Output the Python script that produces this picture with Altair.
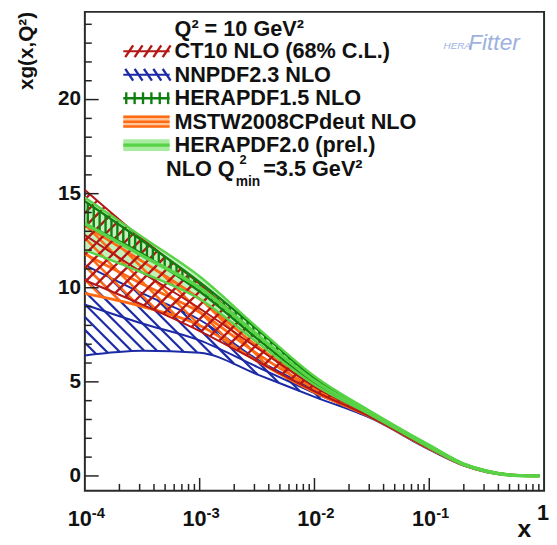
import numpy as np
import pandas as pd
import altair as alt

# ---------------- data ----------------
log_x = [-4.0, -3.5, -3.0, -2.5, -2.0, -1.5, -1.0, -0.7, -0.5, -0.3, -0.1, -0.04]

ct10_hi  = [15.2, 12.6, 10.2, 7.5, 5.0, 3.25, 1.55, 0.62, 0.26, 0.06, 0.01, 0.0]
ct10_mid = [12.8, 10.8, 8.9, 6.8, 4.75, 3.18, 1.5, 0.6, 0.24, 0.05, 0.0, 0.0]
ct10_lo  = [10.4, 9.1, 7.7, 6.1, 4.5, 3.1, 1.45, 0.57, 0.22, 0.04, -0.01, 0.0]

nnpdf_hi  = [11.2, 9.7, 8.3, 6.2, 4.6, 3.2, 1.5, 0.6, 0.24, 0.05, 0.0, 0.0]
nnpdf_mid = [9.1, 8.1, 7.2, 5.8, 4.4, 3.12, 1.45, 0.58, 0.22, 0.04, 0.0, 0.0]
nnpdf_lo  = [6.4, 6.65, 6.55, 5.4, 4.2, 3.04, 1.4, 0.55, 0.2, 0.03, -0.01, 0.0]

hera15_hi = [14.6, 12.5, 10.3, 7.8, 5.2, 3.35, 1.6, 0.64, 0.27, 0.06, 0.0, 0.0]
hera15_lo = [13.4, 11.8, 9.8, 7.3, 4.95, 3.25, 1.52, 0.6, 0.24, 0.05, 0.0, 0.0]

mstw_hi  = [13.3, 11.4, 9.4, 6.9, 4.85, 3.25, 1.55, 0.62, 0.26, 0.06, 0.0, 0.0]
mstw_mid = [11.8, 10.2, 8.7, 6.5, 4.65, 3.18, 1.5, 0.6, 0.24, 0.05, 0.0, 0.0]
mstw_lo  = [9.7, 9.0, 8.0, 6.1, 4.45, 3.1, 1.45, 0.57, 0.22, 0.04, 0.0, 0.0]

hera20_hi  = [14.8, 12.7, 10.6, 7.9, 5.3, 3.4, 1.65, 0.66, 0.28, 0.07, 0.01, 0.0]
hera20_mid = [13.4, 11.7, 10.0, 7.5, 5.05, 3.3, 1.58, 0.62, 0.25, 0.05, 0.0, 0.0]
hera20_lo  = [12.0, 10.8, 9.4, 7.1, 4.85, 3.2, 1.5, 0.58, 0.22, 0.03, -0.01, 0.0]

legend_labels = ["CT10 NLO (68% C.L.)", "NNPDF2.3 NLO", "HERAPDF1.5 NLO",
                 "MSTW2008CPdeut NLO", "HERAPDF2.0 (prel.)"]
legend_title = "Q\u00b2 = 10 GeV\u00b2"

y_major = [0, 5, 10, 15, 20]
x_decades = [-4, -3, -2, -1]

# ---------------- layout ----------------
W, H = 466, 486
Y0, Y1 = -0.79, 24.66
SX = W / 4.0
SY = H / (Y1 - Y0)
FONT = "Liberation Sans"
INK = "#111111"

C_CT10 = "#b51616"
C_NN = "#1c2aa6"
C_H15 = "#0f7f10"
C_MSTW = "#ff6a14"
C_H20 = "#58d246"
C_H20F = "#a8eca0"

xs = alt.Scale(type="log", domain=[1e-4, 1])
ys = alt.Scale(domain=[Y0, Y1], nice=False, zero=False)


def monotone(xk, yk, xq):
    """d3 curveMonotoneX (Steffen) evaluated at xq."""
    xk = np.asarray(xk, float); yk = np.asarray(yk, float)
    n = len(xk)
    h = np.diff(xk); s = np.diff(yk) / h
    t = np.zeros(n)
    for k in range(1, n - 1):
        p = (s[k - 1] * h[k] + s[k] * h[k - 1]) / (h[k - 1] + h[k])
        sg = (-1 if s[k - 1] < 0 else 1) + (-1 if s[k] < 0 else 1)
        t[k] = sg * min(abs(s[k - 1]), abs(s[k]), 0.5 * abs(p))
    t[0] = (3 * s[0] - t[1]) / 2
    t[-1] = (3 * s[-1] - t[-2]) / 2
    xq = np.asarray(xq, float)
    idx = np.clip(np.searchsorted(xk, xq) - 1, 0, n - 2)
    x0 = xk[idx]; hh = h[idx]; u = (xq - x0) / hh
    h00 = 2 * u**3 - 3 * u**2 + 1
    h10 = u**3 - 2 * u**2 + u
    h01 = -2 * u**3 + 3 * u**2
    h11 = u**3 - u**2
    return h00 * yk[idx] + h10 * hh * t[idx] + h01 * yk[idx + 1] + h11 * hh * t[idx + 1]


def hatch(lo, hi, kind, spacing):
    umax = (log_x[-1] + 4) * SX
    u = np.arange(0, umax, 0.25)
    lq = u / SX - 4
    vlo = monotone(log_x, lo, lq) * SY
    vhi = monotone(log_x, hi, lq) * SY
    segs = []
    if kind == "v":
        for uc in np.arange(spacing / 2, umax, spacing):
            i = int(round(uc / 0.25))
            if i >= len(u):
                continue
            segs.append((lq[i], vlo[i] / SY, lq[i], vhi[i] / SY))
    else:
        sgn = 1 if kind == "/" else -1
        cmin = np.min(vlo - sgn * u); cmax = np.max(vhi - sgn * u)
        for c in np.arange(cmin, cmax, spacing):
            vl = sgn * u + c
            inside = np.where((vl >= vlo) & (vl <= vhi))[0]
            if len(inside) < 2:
                continue
            runs = np.split(inside, np.where(np.diff(inside) > 1)[0] + 1)
            for r in runs:
                if len(r) < 2:
                    continue
                a, b = r[0], r[-1]
                segs.append((lq[a], vl[a] / SY, lq[b], vl[b] / SY))
    df = pd.DataFrame(segs, columns=["lx", "y", "lx2", "y2"])
    df["x"] = 10 ** df["lx"]; df["x2"] = 10 ** df["lx2"]
    return df


def curve_df(vals):
    return pd.DataFrame({"x": [10 ** v for v in log_x], "y": vals})


layers = []


def line_layer(vals, color, width, dash=None, opacity=1.0):
    kw = dict(interpolate="monotone", color=color, strokeWidth=width, opacity=opacity,
              clip=True, strokeCap="butt")
    if dash:
        kw["strokeDash"] = dash
    return alt.Chart(curve_df(vals)).mark_line(**kw).encode(
        x=alt.X("x:Q", scale=xs, axis=None), y=alt.Y("y:Q", scale=ys, axis=None))


def hatch_layer(lo, hi, kind, spacing, color, width):
    return alt.Chart(hatch(lo, hi, kind, spacing)).mark_rule(
        color=color, strokeWidth=width, clip=True).encode(
        x=alt.X("x:Q", scale=xs, axis=None), x2="x2:Q",
        y=alt.Y("y:Q", scale=ys, axis=None), y2="y2:Q")


# HERAPDF2.0 fill
h20 = pd.DataFrame({"x": [10 ** v for v in log_x], "lo": hera20_lo, "hi": hera20_hi})
layers.append(alt.Chart(h20).mark_area(interpolate="monotone", color=C_H20F, opacity=0.7,
                                       clip=True).encode(
    x=alt.X("x:Q", scale=xs, axis=None), y=alt.Y("lo:Q", scale=ys, axis=None), y2="hi:Q"))

# NNPDF
layers.append(hatch_layer(nnpdf_lo, nnpdf_hi, "\\", 13, C_NN, 2.2))
for v in (nnpdf_lo, nnpdf_mid, nnpdf_hi):
    layers.append(line_layer(v, C_NN, 2))
# MSTW
layers.append(hatch_layer(mstw_lo, mstw_hi, "\\", 14, C_MSTW, 2.5))
for v in (mstw_lo, mstw_mid, mstw_hi):
    layers.append(line_layer(v, C_MSTW, 2.8))
# CT10
layers.append(hatch_layer(ct10_lo, ct10_hi, "/", 14, C_CT10, 2.4))
for v in (ct10_lo, ct10_mid, ct10_hi):
    layers.append(line_layer(v, C_CT10, 2))
# HERAPDF1.5
layers.append(hatch_layer(hera15_lo, hera15_hi, "v", 6, C_H15, 2.4))
for v in (hera15_lo, hera15_hi):
    layers.append(line_layer(v, C_H15, 2.4))
# HERAPDF2.0 lines
for v in (hera20_lo, hera20_hi):
    layers.append(line_layer(v, C_H20, 2.4))
layers.append(line_layer(hera20_mid, C_H20, 3.5))

# ---------------- inward ticks ----------------
ytk = pd.DataFrame({"v": list(range(0, 25))})
ytk["len"] = [14 if v % 5 == 0 else 7 for v in ytk["v"]]
for L in (14, 7):
    d = ytk[ytk["len"] == L]
    layers.append(alt.Chart(d).mark_rule(color="#222", strokeWidth=1.5).encode(
        y=alt.Y("v:Q", scale=ys, axis=None), x=alt.value(0), x2=alt.value(L)))
xmaj = [10.0 ** e for e in x_decades] + [1.0]
xmin = [k * 10.0 ** e for e in x_decades for k in range(2, 10)]
layers.append(alt.Chart(pd.DataFrame({"v": xmaj[1:-1]})).mark_rule(color="#222", strokeWidth=1.5).encode(
    x=alt.X("v:Q", scale=xs, axis=None), y=alt.value(H), y2=alt.value(H - 13)))
layers.append(alt.Chart(pd.DataFrame({"v": xmin})).mark_rule(color="#222", strokeWidth=1.5).encode(
    x=alt.X("v:Q", scale=xs, axis=None), y=alt.value(H), y2=alt.value(H - 7)))

# ---------------- y tick labels and titles ----------------
layers.append(alt.Chart(pd.DataFrame({"v": y_major})).mark_text(
    font=FONT, fontSize=21, fontWeight="bold", align="right", baseline="middle", color=INK).encode(
    y=alt.Y("v:Q", scale=ys, axis=None), x=alt.value(-4), text="v:N"))
layers.append(alt.Chart(pd.DataFrame({"t": ["xg(x,Q\u00b2)"]})).mark_text(
    font=FONT, fontSize=21, fontWeight="bold", align="right", baseline="alphabetic",
    angle=270, color=INK).encode(x=alt.value(-53), y=alt.value(0), text="t:N"))
layers.append(alt.Chart(pd.DataFrame({"t": ["x"]})).mark_text(
    font=FONT, fontSize=25, fontWeight="bold", align="center", baseline="alphabetic",
    color=INK).encode(x=alt.value(446), y=alt.value(533), text="t:N"))

# ---------------- x tick labels 10^n ----------------
xl = pd.DataFrame({"v": [10.0 ** e for e in x_decades], "sup": [str(e) for e in x_decades]})
layers.append(alt.Chart(xl).mark_text(text="10", font=FONT, fontSize=22, fontWeight="bold",
                                      align="right", baseline="alphabetic", dx=7, color=INK).encode(
    x=alt.X("v:Q", scale=xs, axis=None), y=alt.value(522)))
layers.append(alt.Chart(xl).mark_text(font=FONT, fontSize=15, fontWeight="bold",
                                      align="left", baseline="alphabetic", dx=7, color=INK).encode(
    x=alt.X("v:Q", scale=xs, axis=None), y=alt.value(514), text="sup:N"))
layers.append(alt.Chart(pd.DataFrame({"v": [1.0]})).mark_text(text="1", font=FONT, fontSize=22,
                                      fontWeight="bold", align="center", baseline="alphabetic",
                                      dx=-1, color=INK).encode(
    x=alt.X("v:Q", scale=xs, axis=None), y=alt.value(516)))

# ---------------- legend ----------------
row_y = [40 + i * 23.8 for i in range(5)]
lx0, lx1 = 39, 86
segs = []
cy = row_y[0]
for k in range(5):
    segs.append((lx0 + 2 + k * 9.5, cy + 6, lx0 + 10 + k * 9.5, cy - 6, C_CT10, 2.4))
segs.append((lx0, cy, lx1, cy, C_CT10, 2))
cy = row_y[1]
for k in range(5):
    segs.append((lx0 + 2 + k * 9.5, cy - 6, lx0 + 10 + k * 9.5, cy + 6, C_NN, 2.4))
segs.append((lx0, cy, lx1, cy, C_NN, 2))
cy = row_y[2]
for k in range(6):
    segs.append((lx0 + 3 + k * 8.5, cy - 6, lx0 + 3 + k * 8.5, cy + 6, C_H15, 2.4))
segs.append((lx0, cy, lx1, cy, C_H15, 2.6))
cy = row_y[3]
segs.append((lx0, cy, lx1, cy, "#ffc49a", 12))
for dy in (-5, 0, 5):
    segs.append((lx0, cy + dy, lx1, cy + dy, C_MSTW, 2.6))
cy = row_y[4]
segs.append((lx0, cy, lx1, cy, C_H20F, 12))
segs.append((lx0, cy, lx1, cy, C_H20, 3.5))
leg = pd.DataFrame(segs, columns=["x", "y", "x2", "y2", "c", "w"])
layers.append(alt.Chart(leg).mark_rule().encode(
    x=alt.X("x:Q", scale=None), x2="x2:Q", y=alt.Y("y:Q", scale=None), y2="y2:Q",
    color=alt.Color("c:N", scale=None), strokeWidth=alt.StrokeWidth("w:Q", scale=None)))

ltxt = pd.DataFrame({"t": [legend_title] + legend_labels, "y": [17] + row_y})
layers.append(alt.Chart(ltxt).mark_text(font=FONT, fontSize=22, fontWeight="bold", align="left",
                                        baseline="middle", color=INK).encode(
    x=alt.value(91), y=alt.Y("y:Q", scale=None), text="t:N"))

nlo = pd.DataFrame({"t": ["NLO Q", "2", "min", "=3.5 GeV\u00b2"],
                    "x": [152, 157, 153, 181], "y": [167, 154, 177, 167],
                    "s": [22, 13, 14, 22], "a": ["right", "left", "left", "left"]})
for a in ("right", "left"):
    for s in (22, 13, 14):
        d = nlo[(nlo["a"] == a) & (nlo["s"] == s)]
        if len(d) == 0:
            continue
        layers.append(alt.Chart(d).mark_text(font=FONT, fontSize=s, fontWeight="bold", align=a,
                                             baseline="alphabetic", color=INK).encode(
            x=alt.X("x:Q", scale=None), y=alt.Y("y:Q", scale=None), text="t:N"))

# ---------------- HERAFitter logo ----------------
logo = pd.DataFrame({"t": ["HERA", "Fitter"], "x": [364, 389], "y": [38, 39], "s": [10, 23]})
for s in (10, 23):
    d = logo[logo["s"] == s]
    layers.append(alt.Chart(d).mark_text(font=FONT, fontSize=s, fontStyle="italic",
                                         align="left", baseline="alphabetic",
                                         color="#7c98d4", opacity=0.75).encode(
        x=alt.X("x:Q", scale=None), y=alt.Y("y:Q", scale=None), text="t:N"))

chart = alt.layer(*layers).properties(
    width=W, height=H,
    autosize=alt.AutoSizeParams(type="none"),
    padding={"left": 78, "top": 0, "right": 5, "bottom": 47},
    background="white",
).configure_view(stroke="#2a2a2a", strokeWidth=2)

chart.save("out.html", embed_options={"renderer": "svg", "actions": False})
